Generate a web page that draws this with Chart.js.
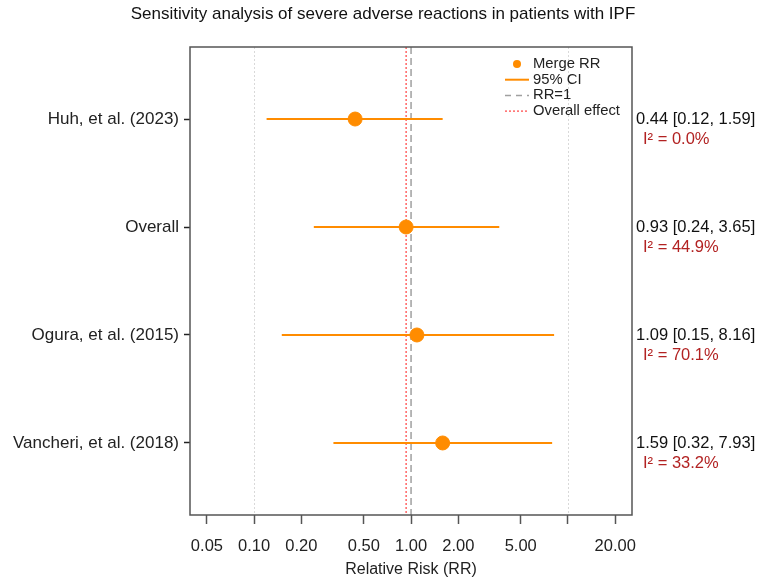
<!DOCTYPE html>
<html>
<head>
<meta charset="utf-8">
<script src="https://cdn.jsdelivr.net/npm/chart.js@4.4.1/dist/chart.umd.min.js"></script>
<style>
  html, body { margin: 0; padding: 0; background: #fff; }
  #wrap { width: 757px; height: 579px; }
</style>
</head>
<body>
<div id="wrap"><canvas id="forest"></canvas></div>
<script>
// forest plot data
const studies = ['Huh, et al. (2023)', 'Overall', 'Ogura, et al. (2015)', 'Vancheri, et al. (2018)'];
const rr = [0.44, 0.93, 1.09, 1.59];
const ciLow = [0.12, 0.24, 0.15, 0.32];
const ciHigh = [1.59, 3.65, 8.16, 7.93];
const i2 = [0.0, 44.9, 70.1, 33.2];
const xTicks = [0.05, 0.1, 0.2, 0.5, 1, 2, 5, 10, 20];
const gridAt = [0.1, 10];
const nullRR = 1;
const overallRR = rr[1];

const FONT = '"Liberation Sans", Arial, sans-serif';
const ORANGE = '#ff8c00';
const rows = studies.map((s, i) => i + 1);
const yMin = 0.333, yMax = 4.667;

const pointData = rr.map((v, i) => ({ x: v, y: rows[i] }));
const ciSets = studies.map((s, i) => ({
  type: 'line',
  data: [{ x: ciLow[i], y: rows[i] }, { x: ciHigh[i], y: rows[i] }],
  borderColor: ORANGE,
  borderWidth: 2,
  pointRadius: 0,
  showLine: true
}));

const extras = {
  id: 'extras',
  beforeDatasetsDraw(chart) {
    const { ctx, chartArea: a, scales: { x } } = chart;
    ctx.save();
    ctx.strokeStyle = '#d9d9d9';
    ctx.lineWidth = 1;
    ctx.setLineDash([2, 2]);
    gridAt.forEach(v => {
      const px = Math.round(x.getPixelForValue(v)) + 0.5;
      ctx.beginPath();
      ctx.moveTo(px, a.top);
      ctx.lineTo(px, a.bottom);
      ctx.stroke();
    });
    ctx.restore();
  },
  afterDraw(chart) {
    const { ctx, chartArea: a, scales: { y } } = chart;
    ctx.save();
    // frame
    ctx.strokeStyle = '#555';
    ctx.lineWidth = 1.5;
    ctx.strokeRect(a.left, a.top, a.right - a.left, a.bottom - a.top);

    // title
    ctx.fillStyle = '#111';
    ctx.font = '17px ' + FONT;
    ctx.textAlign = 'center';
    ctx.textBaseline = 'middle';
    ctx.fillText('Sensitivity analysis of severe adverse reactions in patients with IPF', 383, 14);

    // right-hand estimates
    ctx.font = '16.5px ' + FONT;
    ctx.textAlign = 'left';
    studies.forEach((s, i) => {
      const py = y.getPixelForValue(rows[i]);
      ctx.fillStyle = '#111';
      ctx.fillText(rr[i].toFixed(2) + ' [' + ciLow[i].toFixed(2) + ', ' + ciHigh[i].toFixed(2) + ']', a.right + 4, py);
      ctx.fillStyle = '#b22222';
      ctx.fillText('I\u00b2 = ' + i2[i].toFixed(1) + '%', a.right + 11, py + 20);
    });

    // legend
    const lx = a.right - 127;
    const ly = a.top + 17;
    const gap = 15.7;
    ctx.font = '14.8px ' + FONT;
    ctx.fillStyle = '#222';
    ['Merge RR', '95% CI', 'RR=1', 'Overall effect'].forEach((t, k) => {
      ctx.fillText(t, lx + 28, ly + k * gap);
    });
    ctx.fillStyle = ORANGE;
    ctx.beginPath();
    ctx.arc(lx + 12, ly, 4, 0, Math.PI * 2);
    ctx.fill();
    const seg = (k, color, w, dash) => {
      ctx.strokeStyle = color;
      ctx.lineWidth = w;
      ctx.setLineDash(dash);
      ctx.beginPath();
      ctx.moveTo(lx, ly + k * gap);
      ctx.lineTo(lx + 24, ly + k * gap);
      ctx.stroke();
    };
    seg(1, ORANGE, 2, []);
    seg(2, '#a0a0a0', 1.5, [6, 5]);
    seg(3, '#ff4040', 1.2, [2, 2]);
    ctx.restore();
  }
};

new Chart(document.getElementById('forest'), {
  type: 'scatter',
  data: {
    datasets: [
      {
        label: 'Merge RR',
        data: pointData,
        backgroundColor: ORANGE,
        borderColor: ORANGE,
        pointRadius: 7,
        pointHoverRadius: 7
      },
      ...ciSets,
      {
        type: 'line',
        label: 'Overall effect',
        data: [{ x: overallRR, y: yMin }, { x: overallRR, y: yMax }],
        borderColor: '#ff4040',
        borderWidth: 1.2,
        borderDash: [2, 2],
        pointRadius: 0
      },
      {
        type: 'line',
        label: 'RR=1',
        data: [{ x: nullRR, y: yMin }, { x: nullRR, y: yMax }],
        borderColor: '#a0a0a0',
        borderWidth: 1.5,
        borderDash: [7, 4],
        pointRadius: 0
      }
    ]
  },
  options: {
    responsive: true,
    maintainAspectRatio: false,
    animation: false,
    layout: { padding: { top: 47, right: 125, bottom: 0, left: 0 } },
    plugins: {
      legend: { display: false },
      tooltip: { enabled: false },
      title: { display: false }
    },
    scales: {
      x: {
        type: 'logarithmic',
        min: 0.039,
        max: 25.6,
        afterBuildTicks: (s) => { s.ticks = xTicks.map(v => ({ value: v })); },
        afterFit: (s) => { s.height = 64; },
        ticks: {
          autoSkip: false,
          maxRotation: 0,
          color: '#222',
          padding: 13,
          font: { family: FONT, size: 16.5 },
          callback: (v) => (v === 10 ? '' : Number(v).toFixed(2))
        },
        grid: { display: true, drawOnChartArea: false, drawTicks: true, tickLength: 9, tickColor: '#555', tickWidth: 1.5 },
        border: { display: false },
        title: {
          display: true,
          text: 'Relative Risk (RR)',
          color: '#222',
          font: { family: FONT, size: 16 },
          padding: { top: 0, bottom: 0 }
        }
      },
      y: {
        type: 'linear',
        reverse: true,
        min: yMin,
        max: yMax,
        afterBuildTicks: (s) => { s.ticks = rows.map(v => ({ value: v })); },
        afterFit: (s) => { s.width = 190; },
        ticks: {
          autoSkip: false,
          color: '#222',
          padding: 5,
          font: { family: FONT, size: 17 },
          callback: (v) => studies[v - 1] || ''
        },
        grid: { display: true, drawOnChartArea: false, drawTicks: true, tickLength: 6, tickColor: '#222', tickWidth: 1.5 },
        border: { display: false }
      }
    }
  },
  plugins: [extras]
});
</script>
</body>
</html>
